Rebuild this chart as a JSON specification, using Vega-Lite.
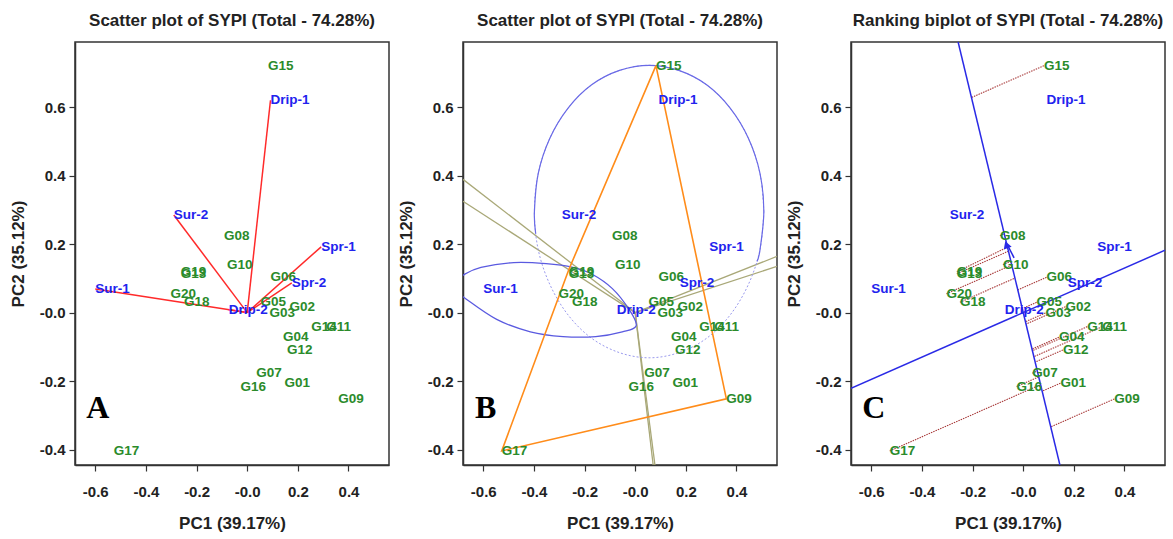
{
  "$schema": "https://vega.github.io/schema/vega-lite/v6.json",
  "padding": {"left": 8, "top": 11, "right": 10, "bottom": 0},
  "datasets": {
    "gen": [
      {"g": "G01", "x": 0.147, "y": -0.206, "fx": 0.0746, "fy": -0.2296},
      {"g": "G02", "x": 0.167, "y": 0.017, "fx": 0.011, "fy": -0.0337},
      {"g": "G03", "x": 0.088, "y": -0.001, "fx": 0.0087, "fy": -0.0268},
      {"g": "G04", "x": 0.141, "y": -0.072, "fx": 0.0346, "fy": -0.1066},
      {"g": "G05", "x": 0.053, "y": 0.03, "fx": -0.0038, "fy": 0.0116},
      {"g": "G06", "x": 0.092, "y": 0.103, "fx": -0.0215, "fy": 0.0661},
      {"g": "G07", "x": 0.036, "y": -0.177, "fx": 0.0555, "fy": -0.1707},
      {"g": "G08", "x": -0.092, "y": 0.224, "fx": -0.0746, "fy": 0.2296},
      {"g": "G09", "x": 0.36, "y": -0.252, "fx": 0.1085, "fy": -0.3338},
      {"g": "G10", "x": -0.08, "y": 0.14, "fx": -0.0488, "fy": 0.1501},
      {"g": "G11", "x": 0.312, "y": -0.041, "fx": 0.0419, "fy": -0.1288},
      {"g": "G12", "x": 0.157, "y": -0.109, "fx": 0.047, "fy": -0.1447},
      {"g": "G13", "x": -0.262, "y": 0.113, "fx": -0.0583, "fy": 0.1793},
      {"g": "G14", "x": 0.253, "y": -0.041, "fx": 0.0362, "fy": -0.1114},
      {"g": "G15", "x": 0.082, "y": 0.721, "fx": -0.2041, "fy": 0.628},
      {"g": "G16", "x": -0.026, "y": -0.216, "fx": 0.061, "fy": -0.1877},
      {"g": "G17", "x": -0.527, "y": -0.404, "fx": 0.0684, "fy": -0.2105},
      {"g": "G18", "x": -0.25, "y": 0.03, "fx": -0.0327, "fy": 0.1007},
      {"g": "G19", "x": -0.262, "y": 0.119, "fx": -0.0621, "fy": 0.191},
      {"g": "G20", "x": -0.303, "y": 0.055, "fx": -0.0451, "fy": 0.1388}
    ],
    "env": [
      {"e": "Drip-1", "x": 0.092, "y": 0.62},
      {"e": "Drip-2", "x": -0.073, "y": 0.008},
      {"e": "Spr-1", "x": 0.292, "y": 0.192},
      {"e": "Spr-2", "x": 0.176, "y": 0.087},
      {"e": "Sur-1", "x": -0.6, "y": 0.069},
      {"e": "Sur-2", "x": -0.29, "y": 0.285}
    ],
    "poly": [
      {"i": 0, "x": 0.082, "y": 0.721},
      {"i": 1, "x": 0.36, "y": -0.252},
      {"i": 2, "x": -0.527, "y": -0.404},
      {"i": 3, "x": -0.262, "y": 0.126},
      {"i": 4, "x": 0.082, "y": 0.721}
    ],
    "sector": [
      {"x": -0.68, "y": 0.389},
      {"x": -0.68, "y": 0.325},
      {"x": 0.56, "y": 0.164},
      {"x": 0.56, "y": 0.135},
      {"x": 0.071, "y": -0.445},
      {"x": 0.078, "y": -0.445}
    ],
    "circle": [
      {"i": 0, "x": 0.508, "y": 0.295}, {"i": 1, "x": 0.493, "y": 0.406}, {"i": 2, "x": 0.447, "y": 0.509},
      {"i": 3, "x": 0.375, "y": 0.597}, {"i": 4, "x": 0.282, "y": 0.665}, {"i": 5, "x": 0.172, "y": 0.707},
      {"i": 6, "x": 0.055, "y": 0.722}, {"i": 7, "x": -0.062, "y": 0.707}, {"i": 8, "x": -0.172, "y": 0.665},
      {"i": 9, "x": -0.265, "y": 0.597}, {"i": 10, "x": -0.337, "y": 0.509}, {"i": 11, "x": -0.383, "y": 0.406},
      {"i": 12, "x": -0.398, "y": 0.295}, {"i": 13, "x": -0.383, "y": 0.184}, {"i": 14, "x": -0.337, "y": 0.082},
      {"i": 15, "x": -0.265, "y": -0.007}, {"i": 16, "x": -0.172, "y": -0.075}, {"i": 17, "x": -0.062, "y": -0.117},
      {"i": 18, "x": 0.055, "y": -0.132}, {"i": 19, "x": 0.172, "y": -0.117}, {"i": 20, "x": 0.282, "y": -0.075},
      {"i": 21, "x": 0.375, "y": -0.007}, {"i": 22, "x": 0.447, "y": 0.082}, {"i": 23, "x": 0.493, "y": 0.184},
      {"i": 24, "x": 0.508, "y": 0.295}
    ],
    "arc": [
      {"i": 0, "x": 0.481, "y": 0.149}, {"i": 1, "x": 0.493, "y": 0.184}, {"i": 2, "x": 0.508, "y": 0.295},
      {"i": 3, "x": 0.493, "y": 0.406}, {"i": 4, "x": 0.447, "y": 0.509}, {"i": 5, "x": 0.375, "y": 0.597},
      {"i": 6, "x": 0.282, "y": 0.665}, {"i": 7, "x": 0.172, "y": 0.707}, {"i": 8, "x": 0.055, "y": 0.722},
      {"i": 9, "x": -0.062, "y": 0.707}, {"i": 10, "x": -0.172, "y": 0.665}, {"i": 11, "x": -0.265, "y": 0.597},
      {"i": 12, "x": -0.337, "y": 0.509}, {"i": 13, "x": -0.383, "y": 0.406}, {"i": 14, "x": -0.398, "y": 0.295},
      {"i": 15, "x": -0.393, "y": 0.231}
    ],
    "ell": [
      {"i": 0, "x": -0.735, "y": 0.078}, {"i": 1, "x": -0.676, "y": 0.111}, {"i": 2, "x": -0.609, "y": 0.132},
      {"i": 3, "x": -0.48, "y": 0.146}, {"i": 4, "x": -0.352, "y": 0.143}, {"i": 5, "x": -0.246, "y": 0.132},
      {"i": 6, "x": -0.17, "y": 0.112}, {"i": 7, "x": -0.09, "y": 0.07}, {"i": 8, "x": -0.025, "y": 0.01},
      {"i": 9, "x": 0.004, "y": -0.038}, {"i": 10, "x": -0.051, "y": -0.056}, {"i": 11, "x": -0.156, "y": -0.07},
      {"i": 12, "x": -0.285, "y": -0.07}, {"i": 13, "x": -0.414, "y": -0.056}, {"i": 14, "x": -0.547, "y": -0.02},
      {"i": 15, "x": -0.676, "y": 0.044}, {"i": 16, "x": -0.735, "y": 0.078}
    ],
    "blue": [
      {"x": -0.68, "y": -0.221, "x2": 0.56, "y2": 0.182},
      {"x": -0.257, "y": 0.79, "x2": 0.145, "y2": -0.445},
      {"x": -0.036, "y": 0.16, "x2": -0.064, "y2": 0.2}
    ],
    "tip": [{"x": -0.066, "y": 0.198}],
    "letter": [{"x": -0.59, "y": -0.28}]
  },
  "hconcat": [
    {
      "width": 314, "height": 423,
      "title": "Scatter plot of SYPI (Total - 74.28%)",
      "layer": [
        {"mark": {"type": "rule", "color": "#8a8a8a", "strokeDash": [2, 2], "strokeWidth": 1},
         "encoding": {"x": {"datum": 0, "type": "quantitative", "scale": {"domain": [-0.68, 0.56], "nice": false, "zero": false},
           "axis": {"title": "PC1 (39.17%)", "values": [-0.6, -0.4, -0.2, 0, 0.2, 0.4], "labelExpr": "datum.value == 0 ? '-0.0' : (datum.value < 0 ? '-' + format(-datum.value, '.1f') : format(datum.value, '.1f'))"}}}},
        {"mark": {"type": "rule", "color": "#8a8a8a", "strokeDash": [2, 2], "strokeWidth": 1},
         "encoding": {"y": {"datum": 0, "type": "quantitative", "scale": {"domain": [-0.445, 0.79], "nice": false, "zero": false},
           "axis": {"title": "PC2 (35.12%)", "values": [-0.4, -0.2, 0, 0.2, 0.4, 0.6], "labelExpr": "datum.value == 0 ? '-0.0' : (datum.value < 0 ? '-' + format(-datum.value, '.1f') : format(datum.value, '.1f'))"}}}},
        {"data": {"name": "env"}, "mark": {"type": "rule", "color": "#ff2a2a", "strokeWidth": 1.5},
         "encoding": {"x": {"field": "x", "type": "quantitative", "scale": {"domain": [-0.68, 0.56], "nice": false, "zero": false}},
           "y": {"field": "y", "type": "quantitative", "scale": {"domain": [-0.445, 0.79], "nice": false, "zero": false}},
           "x2": {"datum": 0}, "y2": {"datum": 0}}},
        {"data": {"name": "gen"}, "mark": {"type": "text", "align": "left", "baseline": "middle", "font": "Liberation Sans", "fontSize": 13.5, "fontWeight": "bold", "color": "#2b8b2b"},
         "encoding": {"x": {"field": "x", "type": "quantitative", "scale": {"domain": [-0.68, 0.56], "nice": false, "zero": false}},
           "y": {"field": "y", "type": "quantitative", "scale": {"domain": [-0.445, 0.79], "nice": false, "zero": false}},
           "text": {"field": "g"}}},
        {"data": {"name": "env"}, "mark": {"type": "text", "align": "left", "baseline": "middle", "font": "Liberation Sans", "fontSize": 13.5, "fontWeight": "bold", "color": "#2222ee"},
         "encoding": {"x": {"field": "x", "type": "quantitative", "scale": {"domain": [-0.68, 0.56], "nice": false, "zero": false}},
           "y": {"field": "y", "type": "quantitative", "scale": {"domain": [-0.445, 0.79], "nice": false, "zero": false}},
           "text": {"field": "e"}}},
        {"data": {"name": "letter"}, "mark": {"type": "text", "align": "center", "baseline": "middle", "font": "Liberation Serif", "fontSize": 32, "fontWeight": "bold", "color": "#000"},
         "encoding": {"x": {"field": "x", "type": "quantitative", "scale": {"domain": [-0.68, 0.56], "nice": false, "zero": false}},
           "y": {"field": "y", "type": "quantitative", "scale": {"domain": [-0.445, 0.79], "nice": false, "zero": false}},
           "text": {"value": "A"}}}
      ]
    },
    {
      "width": 314, "height": 423,
      "title": "Scatter plot of SYPI (Total - 74.28%)",
      "layer": [
        {"mark": {"type": "rule", "color": "#ff8a8a", "strokeDash": [2, 2], "strokeWidth": 1},
         "encoding": {"x": {"datum": 0, "type": "quantitative", "scale": {"domain": [-0.68, 0.56], "nice": false, "zero": false},
           "axis": {"title": "PC1 (39.17%)", "values": [-0.6, -0.4, -0.2, 0, 0.2, 0.4], "labelExpr": "datum.value == 0 ? '-0.0' : (datum.value < 0 ? '-' + format(-datum.value, '.1f') : format(datum.value, '.1f'))"}}}},
        {"mark": {"type": "rule", "color": "#ff8a8a", "strokeDash": [2, 2], "strokeWidth": 1},
         "encoding": {"y": {"datum": 0, "type": "quantitative", "scale": {"domain": [-0.445, 0.79], "nice": false, "zero": false},
           "axis": {"title": "PC2 (35.12%)", "values": [-0.4, -0.2, 0, 0.2, 0.4, 0.6], "labelExpr": "datum.value == 0 ? '-0.0' : (datum.value < 0 ? '-' + format(-datum.value, '.1f') : format(datum.value, '.1f'))"}}}},
        {"data": {"name": "sector"}, "mark": {"type": "rule", "color": "#a9a878", "strokeWidth": 1.3, "clip": true},
         "encoding": {"x": {"field": "x", "type": "quantitative", "scale": {"domain": [-0.68, 0.56], "nice": false, "zero": false}},
           "y": {"field": "y", "type": "quantitative", "scale": {"domain": [-0.445, 0.79], "nice": false, "zero": false}},
           "x2": {"datum": 0}, "y2": {"datum": 0}}},
        {"data": {"name": "circle"}, "mark": {"type": "line", "color": "#9a9aee", "strokeWidth": 1, "strokeDash": [2, 2], "interpolate": "cardinal", "clip": true},
         "encoding": {"x": {"field": "x", "type": "quantitative", "scale": {"domain": [-0.68, 0.56], "nice": false, "zero": false}},
           "y": {"field": "y", "type": "quantitative", "scale": {"domain": [-0.445, 0.79], "nice": false, "zero": false}},
           "order": {"field": "i"}}},
        {"data": {"name": "arc"}, "mark": {"type": "line", "color": "#6a6ae6", "strokeWidth": 1.2, "interpolate": "cardinal", "clip": true},
         "encoding": {"x": {"field": "x", "type": "quantitative", "scale": {"domain": [-0.68, 0.56], "nice": false, "zero": false}},
           "y": {"field": "y", "type": "quantitative", "scale": {"domain": [-0.445, 0.79], "nice": false, "zero": false}},
           "order": {"field": "i"}}},
        {"data": {"name": "ell"}, "mark": {"type": "line", "color": "#5a5ae0", "strokeWidth": 1.3, "interpolate": "cardinal", "clip": true},
         "encoding": {"x": {"field": "x", "type": "quantitative", "scale": {"domain": [-0.68, 0.56], "nice": false, "zero": false}},
           "y": {"field": "y", "type": "quantitative", "scale": {"domain": [-0.445, 0.79], "nice": false, "zero": false}},
           "order": {"field": "i"}}},
        {"data": {"name": "poly"}, "mark": {"type": "line", "color": "#ff8c1a", "strokeWidth": 1.6},
         "encoding": {"x": {"field": "x", "type": "quantitative", "scale": {"domain": [-0.68, 0.56], "nice": false, "zero": false}},
           "y": {"field": "y", "type": "quantitative", "scale": {"domain": [-0.445, 0.79], "nice": false, "zero": false}},
           "order": {"field": "i"}}},
        {"data": {"name": "gen"}, "mark": {"type": "text", "align": "left", "baseline": "middle", "font": "Liberation Sans", "fontSize": 13.5, "fontWeight": "bold", "color": "#2b8b2b"},
         "encoding": {"x": {"field": "x", "type": "quantitative", "scale": {"domain": [-0.68, 0.56], "nice": false, "zero": false}},
           "y": {"field": "y", "type": "quantitative", "scale": {"domain": [-0.445, 0.79], "nice": false, "zero": false}},
           "text": {"field": "g"}}},
        {"data": {"name": "env"}, "mark": {"type": "text", "align": "left", "baseline": "middle", "font": "Liberation Sans", "fontSize": 13.5, "fontWeight": "bold", "color": "#2222ee"},
         "encoding": {"x": {"field": "x", "type": "quantitative", "scale": {"domain": [-0.68, 0.56], "nice": false, "zero": false}},
           "y": {"field": "y", "type": "quantitative", "scale": {"domain": [-0.445, 0.79], "nice": false, "zero": false}},
           "text": {"field": "e"}}},
        {"data": {"name": "letter"}, "mark": {"type": "text", "align": "center", "baseline": "middle", "font": "Liberation Serif", "fontSize": 32, "fontWeight": "bold", "color": "#000"},
         "encoding": {"x": {"field": "x", "type": "quantitative", "scale": {"domain": [-0.68, 0.56], "nice": false, "zero": false}},
           "y": {"field": "y", "type": "quantitative", "scale": {"domain": [-0.445, 0.79], "nice": false, "zero": false}},
           "text": {"value": "B"}}}
      ]
    },
    {
      "width": 314, "height": 423,
      "title": "Ranking biplot of SYPI (Total - 74.28%)",
      "layer": [
        {"mark": {"type": "rule", "color": "#8a8a8a", "strokeDash": [2, 2], "strokeWidth": 1},
         "encoding": {"x": {"datum": 0, "type": "quantitative", "scale": {"domain": [-0.68, 0.56], "nice": false, "zero": false},
           "axis": {"title": "PC1 (39.17%)", "values": [-0.6, -0.4, -0.2, 0, 0.2, 0.4], "labelExpr": "datum.value == 0 ? '-0.0' : (datum.value < 0 ? '-' + format(-datum.value, '.1f') : format(datum.value, '.1f'))"}}}},
        {"mark": {"type": "rule", "color": "#8a8a8a", "strokeDash": [2, 2], "strokeWidth": 1},
         "encoding": {"y": {"datum": 0, "type": "quantitative", "scale": {"domain": [-0.445, 0.79], "nice": false, "zero": false},
           "axis": {"title": "PC2 (35.12%)", "values": [-0.4, -0.2, 0, 0.2, 0.4, 0.6], "labelExpr": "datum.value == 0 ? '-0.0' : (datum.value < 0 ? '-' + format(-datum.value, '.1f') : format(datum.value, '.1f'))"}}}},
        {"data": {"name": "gen"}, "mark": {"type": "rule", "color": "#a83a3a", "strokeWidth": 1.1, "strokeDash": [1.5, 1]},
         "encoding": {"x": {"field": "x", "type": "quantitative", "scale": {"domain": [-0.68, 0.56], "nice": false, "zero": false}},
           "y": {"field": "y", "type": "quantitative", "scale": {"domain": [-0.445, 0.79], "nice": false, "zero": false}},
           "x2": {"field": "fx"}, "y2": {"field": "fy"}}},
        {"data": {"name": "blue"}, "mark": {"type": "rule", "color": "#2a2ae6", "strokeWidth": 1.5, "clip": true},
         "encoding": {"x": {"field": "x", "type": "quantitative", "scale": {"domain": [-0.68, 0.56], "nice": false, "zero": false}},
           "y": {"field": "y", "type": "quantitative", "scale": {"domain": [-0.445, 0.79], "nice": false, "zero": false}},
           "x2": {"field": "x2"}, "y2": {"field": "y2"}}},
        {"data": {"name": "tip"}, "mark": {"type": "point", "shape": "triangle-up", "filled": true, "color": "#2a2ae6", "size": 70, "opacity": 1, "angle": -20},
         "encoding": {"x": {"field": "x", "type": "quantitative", "scale": {"domain": [-0.68, 0.56], "nice": false, "zero": false}},
           "y": {"field": "y", "type": "quantitative", "scale": {"domain": [-0.445, 0.79], "nice": false, "zero": false}}}},
        {"data": {"name": "gen"}, "mark": {"type": "text", "align": "left", "baseline": "middle", "font": "Liberation Sans", "fontSize": 13.5, "fontWeight": "bold", "color": "#2b8b2b"},
         "encoding": {"x": {"field": "x", "type": "quantitative", "scale": {"domain": [-0.68, 0.56], "nice": false, "zero": false}},
           "y": {"field": "y", "type": "quantitative", "scale": {"domain": [-0.445, 0.79], "nice": false, "zero": false}},
           "text": {"field": "g"}}},
        {"data": {"name": "env"}, "mark": {"type": "text", "align": "left", "baseline": "middle", "font": "Liberation Sans", "fontSize": 13.5, "fontWeight": "bold", "color": "#2222ee"},
         "encoding": {"x": {"field": "x", "type": "quantitative", "scale": {"domain": [-0.68, 0.56], "nice": false, "zero": false}},
           "y": {"field": "y", "type": "quantitative", "scale": {"domain": [-0.445, 0.79], "nice": false, "zero": false}},
           "text": {"field": "e"}}},
        {"data": {"name": "letter"}, "mark": {"type": "text", "align": "center", "baseline": "middle", "font": "Liberation Serif", "fontSize": 32, "fontWeight": "bold", "color": "#000"},
         "encoding": {"x": {"field": "x", "type": "quantitative", "scale": {"domain": [-0.68, 0.56], "nice": false, "zero": false}},
           "y": {"field": "y", "type": "quantitative", "scale": {"domain": [-0.445, 0.79], "nice": false, "zero": false}},
           "text": {"value": "C"}}}
      ]
    }
  ],
  "config": {
    "view": {"stroke": "#333", "strokeWidth": 1.5},
    "concat": {"spacing": 6},
    "axis": {
      "labelFont": "Liberation Sans", "labelFontSize": 15, "labelFontWeight": "bold", "labelColor": "#222",
      "titleFont": "Liberation Sans", "titleFontSize": 17, "titleFontWeight": "bold", "titleColor": "#222",
      "grid": false, "domainColor": "#333", "domainWidth": 1.5, "tickColor": "#333", "tickSize": 6, "tickWidth": 1.2
    },
    "axisX": {"labelPadding": 13, "titlePadding": 16},
    "axisY": {"labelPadding": 4, "titlePadding": 12},
    "title": {"font": "Liberation Sans", "fontSize": 17, "fontWeight": "bold", "color": "#222", "offset": 12}
  }
}
